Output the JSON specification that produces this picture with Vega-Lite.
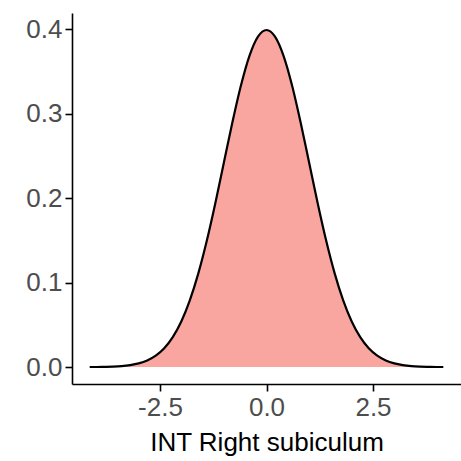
{
  "$schema": "https://vega.github.io/schema/vega-lite/v6.json",
  "width": 389,
  "height": 371,
  "autosize": {"type": "none"},
  "padding": {"left": 72, "top": 13, "right": 0, "bottom": 77},
  "background": "white",
  "config": {
    "view": {"stroke": null},
    "font": "Liberation Sans",
    "axis": {
      "grid": false,
      "domainColor": "black",
      "domainWidth": 1.6,
      "tickColor": "black",
      "tickWidth": 1.6,
      "tickSize": 7,
      "labelColor": "#4D4D4D",
      "labelFont": "Liberation Sans",
      "labelFontSize": 26,
      "labelPadding": 3,
      "titleColor": "black",
      "titleFont": "Liberation Sans",
      "titleFontSize": 26,
      "titleFontWeight": "normal"
    }
  },
  "data": {
    "values": [
      {"x": -4.15, "y": 0.0001},
      {"x": -4.0, "y": 0.0001},
      {"x": -3.8, "y": 0.0003},
      {"x": -3.6, "y": 0.0006},
      {"x": -3.4, "y": 0.0012},
      {"x": -3.2, "y": 0.0024},
      {"x": -3.0, "y": 0.0044},
      {"x": -2.8, "y": 0.0079},
      {"x": -2.6, "y": 0.0136},
      {"x": -2.4, "y": 0.0224},
      {"x": -2.2, "y": 0.0355},
      {"x": -2.0, "y": 0.054},
      {"x": -1.8, "y": 0.079},
      {"x": -1.6, "y": 0.1109},
      {"x": -1.4, "y": 0.1497},
      {"x": -1.2, "y": 0.1942},
      {"x": -1.0, "y": 0.242},
      {"x": -0.8, "y": 0.2897},
      {"x": -0.6, "y": 0.3332},
      {"x": -0.4, "y": 0.3683},
      {"x": -0.2, "y": 0.391},
      {"x": 0.0, "y": 0.3989},
      {"x": 0.2, "y": 0.391},
      {"x": 0.4, "y": 0.3683},
      {"x": 0.6, "y": 0.3332},
      {"x": 0.8, "y": 0.2897},
      {"x": 1.0, "y": 0.242},
      {"x": 1.2, "y": 0.1942},
      {"x": 1.4, "y": 0.1497},
      {"x": 1.6, "y": 0.1109},
      {"x": 1.8, "y": 0.079},
      {"x": 2.0, "y": 0.054},
      {"x": 2.2, "y": 0.0355},
      {"x": 2.4, "y": 0.0224},
      {"x": 2.6, "y": 0.0136},
      {"x": 2.8, "y": 0.0079},
      {"x": 3.0, "y": 0.0044},
      {"x": 3.2, "y": 0.0024},
      {"x": 3.4, "y": 0.0012},
      {"x": 3.6, "y": 0.0006},
      {"x": 3.8, "y": 0.0003},
      {"x": 4.0, "y": 0.0001},
      {"x": 4.15, "y": 0.0001}
    ]
  },
  "encoding": {
    "x": {
      "field": "x",
      "type": "quantitative",
      "scale": {"domain": [-4.565, 4.565], "nice": false, "zero": false},
      "axis": {"values": [-2.5, 0, 2.5], "labelExpr": "replace(format(datum.value, '.1f'), '\u2212', '-')", "title": "INT Right subiculum", "titlePadding": 9}
    },
    "y": {
      "field": "y",
      "type": "quantitative",
      "scale": {"domain": [-0.02, 0.419], "nice": false, "zero": false},
      "axis": {"values": [0, 0.1, 0.2, 0.3, 0.4], "format": ".1f", "title": null}
    }
  },
  "layer": [
    {
      "mark": {"type": "area", "interpolate": "monotone", "color": "#F8766D", "opacity": 0.65},
      "encoding": {"y2": {"datum": 0}}
    },
    {
      "mark": {"type": "line", "interpolate": "monotone", "color": "black", "strokeWidth": 2.2}
    }
  ]
}
